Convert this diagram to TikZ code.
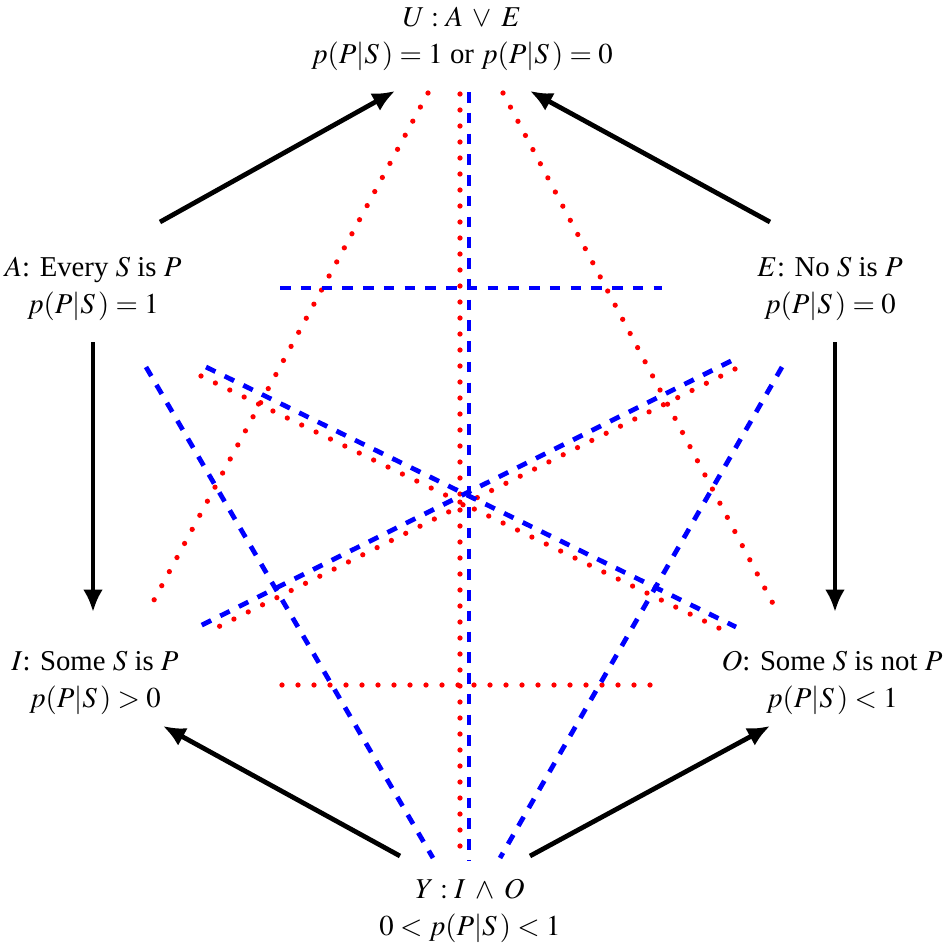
\documentclass[tikz,border=0pt]{standalone}
\usepackage{mathptmx}
\usepackage{fontspec}
\setmainfont{Liberation Serif}
\usetikzlibrary{arrows.meta}
\newcommand{\pps}{p(P|S\,)}
\AtBeginDocument{\medmuskip=6mu plus 2mu minus 4mu\relax}
\begin{document}
\begin{tikzpicture}[x=0.4pt,y=-0.4pt,
  lbl/.style={align=center,inner sep=0pt,font=\fontsize{11.5}{15}\selectfont},
  implarrow/.style={line width=1.9pt,-{Latex[length=9pt,width=8pt]}},
  contrary/.style={blue,line width=1.9pt,dash pattern=on 4.2pt off 4.1pt},
  subcontrary/.style={red,line width=2.1pt,line cap=round,dash pattern=on 0pt off 6.4pt}]
\useasboundingbox (0,0) rectangle (943,947);
% labels
\node[lbl] (U) at (462,39) {$U : A \vee E$\\ $\pps = 1$ or $\pps = 0$};
\node[lbl] (A) at (93,289) {$A$: Every $S$ is $P$\\ $\pps = 1$};
\node[lbl] (E) at (830,289) {$E$: No $S$ is $P$\\ $\pps = 0$};
\node[lbl] (I) at (95,683) {$I$: Some $S$ is $P$\\ $\pps > 0$};
\node[lbl] (O) at (832,683) {$O$: Some $S$ is not $P$\\ $\pps < 1$};
\node[lbl] (Y) at (470,911) {$Y : I \wedge O$\\ $0 < \pps < 1$};
% arrow end points
\coordinate (aU1) at (160,222); \coordinate (aU2) at (395,91);
\coordinate (eU1) at (770,222); \coordinate (eU2) at (530,91);
\coordinate (aI1) at (93,342);  \coordinate (aI2) at (93,612);
\coordinate (eO1) at (835,342); \coordinate (eO2) at (835,612);
\coordinate (yI1) at (400,856); \coordinate (yI2) at (163,726);
\coordinate (yO1) at (530,856); \coordinate (yO2) at (770,726);
% blue end points
\coordinate (b1a) at (469,92);  \coordinate (b1b) at (469,860);
\coordinate (b2a) at (280,288); \coordinate (b2b) at (662,288);
\coordinate (b3a) at (146,367); \coordinate (b3b) at (433,858);
\coordinate (b4a) at (782,367); \coordinate (b4b) at (500,858);
\coordinate (b5a) at (206,367); \coordinate (b5b) at (736,627);
\coordinate (b6a) at (731,361); \coordinate (b6b) at (200,626);
% red end points
\coordinate (r1a) at (460,94);  \coordinate (r1b) at (460,861);
\coordinate (r2a) at (282,685); \coordinate (r2b) at (652,685);
\coordinate (r3a) at (428,93);  \coordinate (r3b) at (147,613);
\coordinate (r4a) at (503,93);  \coordinate (r4b) at (779,615);
\coordinate (r5a) at (201,376); \coordinate (r5b) at (729,633);
\coordinate (r6a) at (735,369); \coordinate (r6b) at (208,632);
% red dotted
\draw[subcontrary] (r1a) -- (r1b);
\draw[subcontrary] (r2a) -- (r2b);
\draw[subcontrary] (r3a) -- (r3b);
\draw[subcontrary] (r4a) -- (r4b);
\draw[subcontrary] (r5a) -- (r5b);
\draw[subcontrary] (r6a) -- (r6b);
% blue dashed
\draw[contrary] (b1a) -- (b1b);
\draw[contrary] (b2a) -- (b2b);
\draw[contrary] (b3a) -- (b3b);
\draw[contrary] (b4a) -- (b4b);
\draw[contrary] (b5a) -- (b5b);
\draw[contrary] (b6a) -- (b6b);
% black arrows
\draw[implarrow] (aU1) -- (aU2);
\draw[implarrow] (eU1) -- (eU2);
\draw[implarrow] (aI1) -- (aI2);
\draw[implarrow] (eO1) -- (eO2);
\draw[implarrow] (yI1) -- (yI2);
\draw[implarrow] (yO1) -- (yO2);
\end{tikzpicture}
\end{document}
